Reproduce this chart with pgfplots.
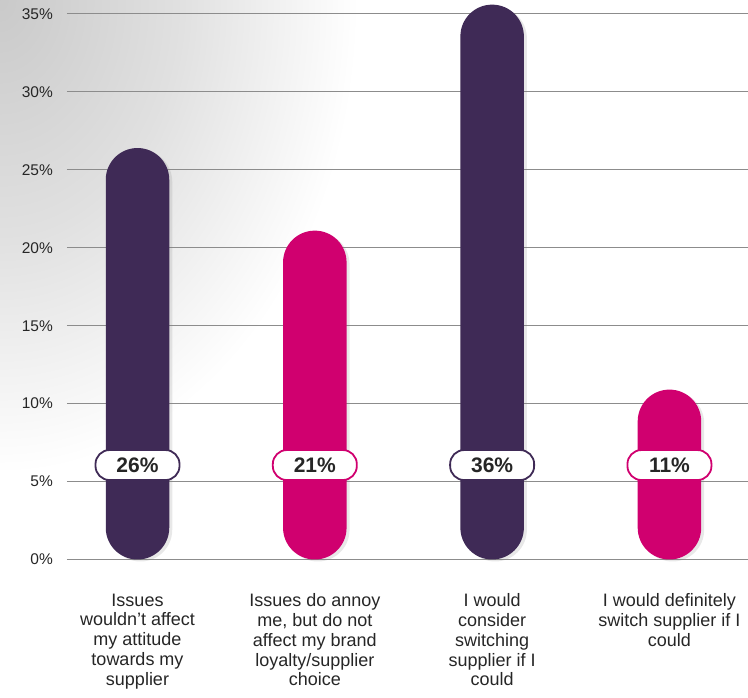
\documentclass[border=0pt]{standalone}
\usepackage{pgfplots}
\pgfplotsset{compat=1.18}
\usepackage{fontspec}
\setmainfont{Liberation Sans}
\usetikzlibrary{shadows}
\definecolor{cpurple}{HTML}{3F2A56}
\definecolor{cmag}{HTML}{D0006F}
\definecolor{cgrid}{HTML}{8C8C8C}
\definecolor{ctext}{HTML}{262626}
\pgfdeclareradialshading{bgfade}{\pgfpoint{0bp}{0bp}}{color(0bp)=(black!21); color(8bp)=(black!12); color(16bp)=(white); color(50bp)=(white)}
\begin{document}
\begin{tikzpicture}[x=1pt,y=1pt]
\useasboundingbox (0,0) rectangle (748,698);
\begin{scope}
\clip (0,0) rectangle (748,698);
\shade[shading=bgfade] (0,698) ellipse (560 and 740);
\end{scope}
\begin{axis}[
  at={(67pt,138.5pt)}, anchor=south west,
  scale only axis, width=681pt, height=545.5pt,
  xmin=-0.3976, xmax=3.443, ymin=0, ymax=35,
  clip=false,
  axis line style={draw=none},
  major tick length=0pt,
  ytick={0,5,...,35},
  ymajorgrids, grid style={cgrid, line width=1pt},
  /pgf/number format/assume math mode=true,
  yticklabel={\pgfmathprintnumber{\tick}\%},
  yticklabel style={font=\fontsize{15.5}{18}\selectfont, text=ctext, anchor=east, inner sep=0pt, xshift=-14pt},
  xtick={0,1,2,3},
  xticklabels={{Issues\\wouldn’t affect\\my attitude\\towards my\\supplier},
               {Issues do annoy\\me, but do not\\affect my brand\\loyalty/supplier\\choice},
               {I would\\consider\\switching\\supplier if I\\could},
               {I would definitely\\switch supplier if I\\could}},
  xticklabel style={font=\fontsize{18}{19.8}\selectfont, text=ctext, align=center, anchor=north, inner sep=0pt, yshift=-34pt},
]
\addplot[ybar, bar width=63.5pt, bar shift=0pt, fill=cpurple, draw=none, rounded corners=31.7pt,
  drop shadow={opacity=0.18, shadow xshift=3pt, shadow yshift=-2pt}]
  coordinates {(0,26.4) (2,35.6)};
\addplot[ybar, bar width=63.5pt, bar shift=0pt, fill=cmag, draw=none, rounded corners=31.7pt,
  drop shadow={opacity=0.18, shadow xshift=3pt, shadow yshift=-2pt}]
  coordinates {(1,21.1) (3,10.9)};
\addplot[draw=none, mark=none, point meta=explicit,
  nodes near coords={\pgfmathprintnumber[fixed,precision=0]{\pgfplotspointmeta}\%},
  every node near coord/.append style={anchor=center, fill=white, draw=cpurple, line width=1.8pt,
    rounded corners=14pt, minimum width=84pt, minimum height=30pt, inner sep=0pt,
    font=\bfseries\fontsize{21}{21}\selectfont, text=ctext}]
  table[x=x, y=y, meta=v] {
x y v
0 6.06 26
2 6.06 36
};
\addplot[draw=none, mark=none, point meta=explicit,
  nodes near coords={\pgfmathprintnumber[fixed,precision=0]{\pgfplotspointmeta}\%},
  every node near coord/.append style={anchor=center, fill=white, draw=cmag, line width=1.8pt,
    rounded corners=14pt, minimum width=84pt, minimum height=30pt, inner sep=0pt,
    font=\bfseries\fontsize{21}{21}\selectfont, text=ctext}]
  table[x=x, y=y, meta=v] {
x y v
1 6.06 21
3 6.06 11
};
\end{axis}
\end{tikzpicture}
\end{document}
